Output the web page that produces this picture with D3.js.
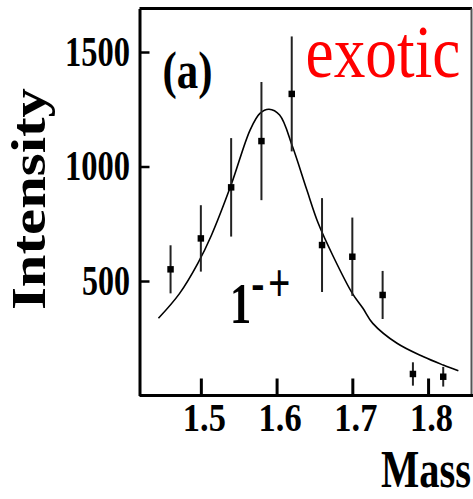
<!DOCTYPE html>
<html>
<head>
<meta charset="utf-8">
<script src="https://cdn.jsdelivr.net/npm/d3@7"></script>
<style>
  body { margin: 0; background: #fff; }
  svg { display: block; }
  text { font-family: "Liberation Serif", "Times New Roman", serif; }
</style>
</head>
<body>
<script>
// measured points with symmetric errors
const masses = [1.46, 1.50, 1.54, 1.58, 1.62, 1.66, 1.70, 1.74, 1.78, 1.82];
const intensities = [551, 686, 909, 1111, 1317, 657, 606, 439, 94, 82];
const errors = [105, 145, 215, 258, 251, 205, 171, 105, 51, 43];

// fitted curve
const fitMass = [1.444, 1.472, 1.496, 1.514, 1.540, 1.565, 1.578, 1.590, 1.604, 1.621,
                 1.640, 1.655, 1.675, 1.700, 1.714, 1.727, 1.759, 1.794, 1.820, 1.840];
const fitIntensity = [337, 446, 577, 700, 920, 1159, 1232, 1250, 1225, 1087,
                      897, 752, 606, 446, 381, 315, 228, 169, 133, 108];

const xTicks = [1.5, 1.6, 1.7, 1.8];
const yTicks = [500, 1000, 1500];

const width = 473, height = 499;

var x = d3.scaleLinear().domain([1.419, 1.858]).range([139.5, 472]);
var y = d3.scaleLinear().domain([0, 1690]).range([395.5, 8.5]);

var svg = d3.select("body").append("svg")
    .attr("width", width)
    .attr("height", height)
    .attr("viewBox", "0 0 " + width + " " + height);

// frame: top and right
svg.append("line")
    .attr("x1", x.range()[0]).attr("x2", x.range()[1])
    .attr("y1", y.range()[1]).attr("y2", y.range()[1])
    .attr("stroke", "#000").attr("stroke-width", 3);
svg.append("line")
    .attr("x1", 471.5).attr("x2", 471.5)
    .attr("y1", y.range()[1]).attr("y2", y.range()[0])
    .attr("stroke", "#555").attr("stroke-width", 2);

// y axis, ticks inward
var yAxis = svg.append("g")
    .attr("transform", "translate(" + x.range()[0] + ",0)")
    .call(d3.axisLeft(y).tickValues(yTicks).tickFormat(d3.format("d"))
      .tickSizeInner(-10).tickSizeOuter(0).tickPadding(9.5));
yAxis.select(".domain").attr("stroke", "#000").attr("stroke-width", 3);
yAxis.selectAll(".tick line").attr("stroke", "#000").attr("stroke-width", 2.5);
yAxis.selectAll(".tick text")
    .attr("fill", "#000")
    .style("font-family", "Liberation Serif")
    .style("font-weight", "bold")
    .style("font-size", "42px")
    .attr("lengthAdjust", "spacingAndGlyphs")
    .attr("textLength", function(d) { return d >= 1000 ? 65 : 48; });

// x axis, ticks inward
var xAxis = svg.append("g")
    .attr("transform", "translate(0," + y.range()[0] + ")")
    .call(d3.axisBottom(x).tickValues(xTicks).tickFormat(d3.format(".1f"))
      .tickSizeInner(-17).tickSizeOuter(0).tickPadding(8));
xAxis.select(".domain").attr("stroke", "#000").attr("stroke-width", 3)
    .attr("d", "M" + x.range()[0] + ",0H473");
xAxis.selectAll(".tick line").attr("stroke", "#000").attr("stroke-width", 3);
xAxis.selectAll(".tick text")
    .attr("fill", "#000")
    .attr("dx", 3)
    .style("font-family", "Liberation Serif")
    .style("font-weight", "bold")
    .style("font-size", "39px")
    .attr("lengthAdjust", "spacingAndGlyphs")
    .attr("textLength", 43);

// fit curve
var line = d3.line()
    .x(function(d, i) { return x(fitMass[i]); })
    .y(function(d) { return y(d); })
    .curve(d3.curveCatmullRom);
svg.append("path")
    .datum(fitIntensity)
    .attr("d", line)
    .attr("fill", "none")
    .attr("stroke", "#000")
    .attr("stroke-width", 1.6);

// error bars
svg.selectAll(".err")
    .data(intensities)
    .enter().append("line")
    .attr("class", "err")
    .attr("x1", function(d, i) { return x(masses[i]); })
    .attr("x2", function(d, i) { return x(masses[i]); })
    .attr("y1", function(d, i) { return y(d + errors[i]); })
    .attr("y2", function(d, i) { return y(d - errors[i]); })
    .attr("stroke", "#222")
    .attr("stroke-width", 2);

// markers
svg.selectAll(".pt")
    .data(intensities)
    .enter().append("path")
    .attr("class", "pt")
    .attr("d", d3.symbol().type(d3.symbolSquare).size(42))
    .attr("transform", function(d, i) { return "translate(" + x(masses[i]) + "," + y(d) + ")"; })
    .attr("fill", "#000");

// labels
svg.append("text")
    .attr("transform", "translate(45,199) rotate(-90)")
    .attr("text-anchor", "middle")
    .style("font-weight", "bold")
    .style("font-size", "48px")
    .attr("lengthAdjust", "spacingAndGlyphs")
    .attr("textLength", 222)
    .text("Intensity");

// scanned figure is stretched vertically, so scale these instead of squeezing
svg.append("text")
    .attr("transform", "translate(381,487) scale(1,1.3)")
    .style("font-weight", "bold")
    .style("font-size", "40.5px")
    .text("Mass");

svg.append("text")
    .attr("x", 162.5).attr("y", 88)
    .style("font-weight", "bold")
    .style("font-size", "52px")
    .attr("lengthAdjust", "spacingAndGlyphs")
    .attr("textLength", 50)
    .text("(a)");

svg.append("text")
    .attr("transform", "translate(305.5,77) scale(1,1.17)")
    .attr("fill", "#ff0000")
    .style("font-size", "63.4px")
    .text("exotic");

var jpc = svg.append("text")
    .attr("transform", "translate(230,323) scale(0.73,1)")
    .style("font-weight", "bold");
jpc.append("tspan").style("font-size", "58px").text("1");
jpc.append("tspan").attr("dy", -22).style("font-size", "54px").text("-");
jpc.append("tspan").attr("dx", 5).style("font-size", "54px").text("+");
</script>
</body>
</html>
